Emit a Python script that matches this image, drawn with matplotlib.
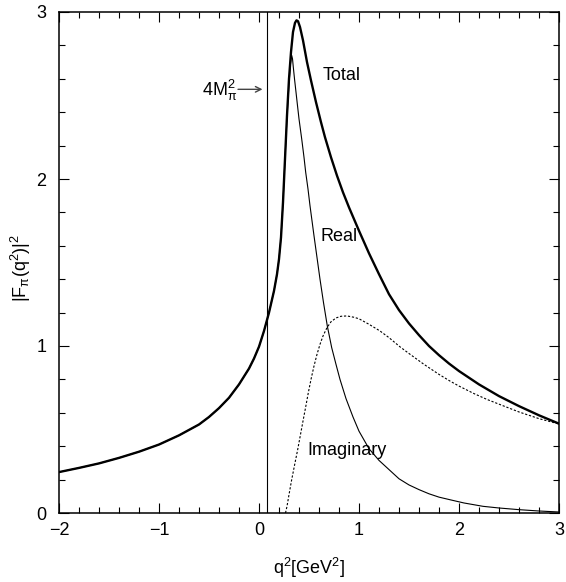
import matplotlib
matplotlib.use("Agg")
import matplotlib.pyplot as plt
from matplotlib.ticker import MultipleLocator

plt.rcParams['font.family'] = ['Liberation Sans', 'DejaVu Sans']
plt.rcParams['mathtext.default'] = 'regular'

# ---- data ----
total_x = [-2.0, -1.8, -1.6, -1.4, -1.2, -1.0, -0.8, -0.6, -0.5, -0.4, -0.3, -0.2,
           -0.1, -0.05, 0.0, 0.05, 0.10, 0.15, 0.18, 0.20, 0.22, 0.24, 0.26, 0.28,
           0.30, 0.32, 0.34, 0.36, 0.375, 0.39, 0.41, 0.44, 0.48, 0.52, 0.57, 0.62,
           0.66, 0.72, 0.78, 0.84, 0.90, 0.95, 1.0, 1.1, 1.2, 1.3, 1.4, 1.5, 1.6,
           1.7, 1.8, 1.9, 2.0, 2.2, 2.4, 2.6, 2.8, 3.0]
total_y = [0.245, 0.27, 0.297, 0.33, 0.367, 0.41, 0.465, 0.53, 0.575, 0.628, 0.69, 0.77,
           0.865, 0.925, 0.996, 1.09, 1.20, 1.33, 1.43, 1.52, 1.65, 1.86, 2.12, 2.38,
           2.60, 2.76, 2.88, 2.935, 2.95, 2.945, 2.91, 2.83, 2.70, 2.59, 2.46, 2.34,
           2.25, 2.13, 2.02, 1.92, 1.83, 1.76, 1.69, 1.555, 1.43, 1.31, 1.215, 1.135, 1.065,
           1.0, 0.945, 0.895, 0.85, 0.77, 0.70, 0.64, 0.585, 0.535]

real_x = [-2.0, -1.8, -1.6, -1.4, -1.2, -1.0, -0.8, -0.6, -0.5, -0.4, -0.3, -0.2,
          -0.1, -0.05, 0.0, 0.05, 0.10, 0.15, 0.18, 0.20, 0.22, 0.24, 0.26, 0.28,
          0.30, 0.315, 0.327, 0.335, 0.343, 0.355, 0.37, 0.383, 0.40, 0.427, 0.45,
          0.467, 0.49, 0.51, 0.53, 0.55, 0.58, 0.61, 0.645, 0.683, 0.727, 0.77, 0.81,
          0.87, 0.94, 1.0, 1.1, 1.2, 1.3, 1.4, 1.5, 1.6, 1.7, 1.8, 1.92, 2.05, 2.24,
          2.4, 2.6, 2.8, 3.0]
real_y = [0.245, 0.27, 0.297, 0.33, 0.367, 0.41, 0.465, 0.53, 0.575, 0.628, 0.69, 0.77,
          0.865, 0.925, 0.996, 1.09, 1.20, 1.33, 1.43, 1.52, 1.65, 1.86, 2.12, 2.37,
          2.57, 2.69, 2.74, 2.72, 2.67, 2.60, 2.52, 2.45, 2.36, 2.24, 2.13,
          2.04, 1.94, 1.84, 1.75, 1.66, 1.53, 1.40, 1.26, 1.12, 0.99, 0.89, 0.80,
          0.685, 0.575, 0.49, 0.385, 0.315, 0.26, 0.205, 0.168, 0.14, 0.115, 0.095,
          0.078, 0.06, 0.04, 0.03, 0.02, 0.012, 0.006]

imag_x = [0.265, 0.28, 0.30, 0.327, 0.36, 0.387, 0.415, 0.443, 0.47, 0.493, 0.52,
          0.55, 0.58, 0.61, 0.64, 0.68, 0.72, 0.77, 0.82, 0.88, 0.95, 1.0, 1.1, 1.21,
          1.3, 1.41, 1.5, 1.65, 1.8, 1.91, 2.0, 2.15, 2.28, 2.45, 2.6, 2.8, 3.0]
imag_y = [0.0, 0.04, 0.11, 0.20, 0.30, 0.38, 0.47, 0.56, 0.645, 0.72, 0.80,
          0.88, 0.95, 1.01, 1.06, 1.11, 1.145, 1.168, 1.178, 1.18, 1.172, 1.163, 1.13,
          1.09, 1.05, 0.995, 0.955, 0.89, 0.83, 0.79, 0.76, 0.715, 0.68, 0.64, 0.605,
          0.565, 0.533]

threshold = 0.078  # 4 M_pi^2

fig = plt.figure(figsize=(5.66, 5.82), dpi=100)
ax = fig.add_axes([59/566, 1-513/582, 500/566, 501/582])

ax.plot(total_x, total_y, color='black', lw=1.7, solid_joinstyle='round')
ax.plot(real_x, real_y, color='black', lw=0.8)
ax.plot(imag_x, imag_y, color='black', lw=0.8, linestyle=(0, (2.0, 1.6)))
ax.axvline(threshold, color='black', lw=0.8)

fs = 13
ax.text(0.64, 2.617, 'Total', fontsize=fs, va='center', ha='left')
ax.text(0.62, 1.653, 'Real', fontsize=fs, va='center', ha='left')
ax.text(0.48, 0.377, 'Imaginary', fontsize=fs, va='center', ha='left')
ax.annotate('', xy=(0.035, 2.537), xytext=(-0.21, 2.537),
            arrowprops=dict(arrowstyle='->', color='#444444', lw=1.0,
                            shrinkA=0, shrinkB=0))
ax.text(-0.22, 2.53, r'$4M_\pi^2$', fontsize=fs, va='center', ha='right')

ax.set_xlim(-2, 3)
ax.set_ylim(0, 3)
ax.xaxis.set_major_locator(MultipleLocator(1))
ax.xaxis.set_minor_locator(MultipleLocator(0.2))
ax.yaxis.set_major_locator(MultipleLocator(1))
ax.yaxis.set_minor_locator(MultipleLocator(0.2))
ax.set_xticks([-2, -1, 0, 1, 2, 3], ['\u22122', '\u22121', '0', '1', '2', '3'])
ax.tick_params(which='both', direction='in', top=True, right=True,
               labelsize=fs, width=0.8)
ax.tick_params(which='major', length=7)
ax.tick_params(which='minor', length=4)
ax.tick_params(axis='x', pad=6.5)
ax.tick_params(axis='y', pad=9)
for s in ax.spines.values():
    s.set_linewidth(1.1)

ax.set_xlabel(r'$q^2[GeV^2]$', fontsize=fs)
ax.set_ylabel(r'$|F_\pi(q^2)|^2$', fontsize=fs)
ax.xaxis.set_label_coords(0.5, -0.085)
ax.yaxis.set_label_coords(-0.052, 0.49)

fig.savefig('out.png', dpi=100)
